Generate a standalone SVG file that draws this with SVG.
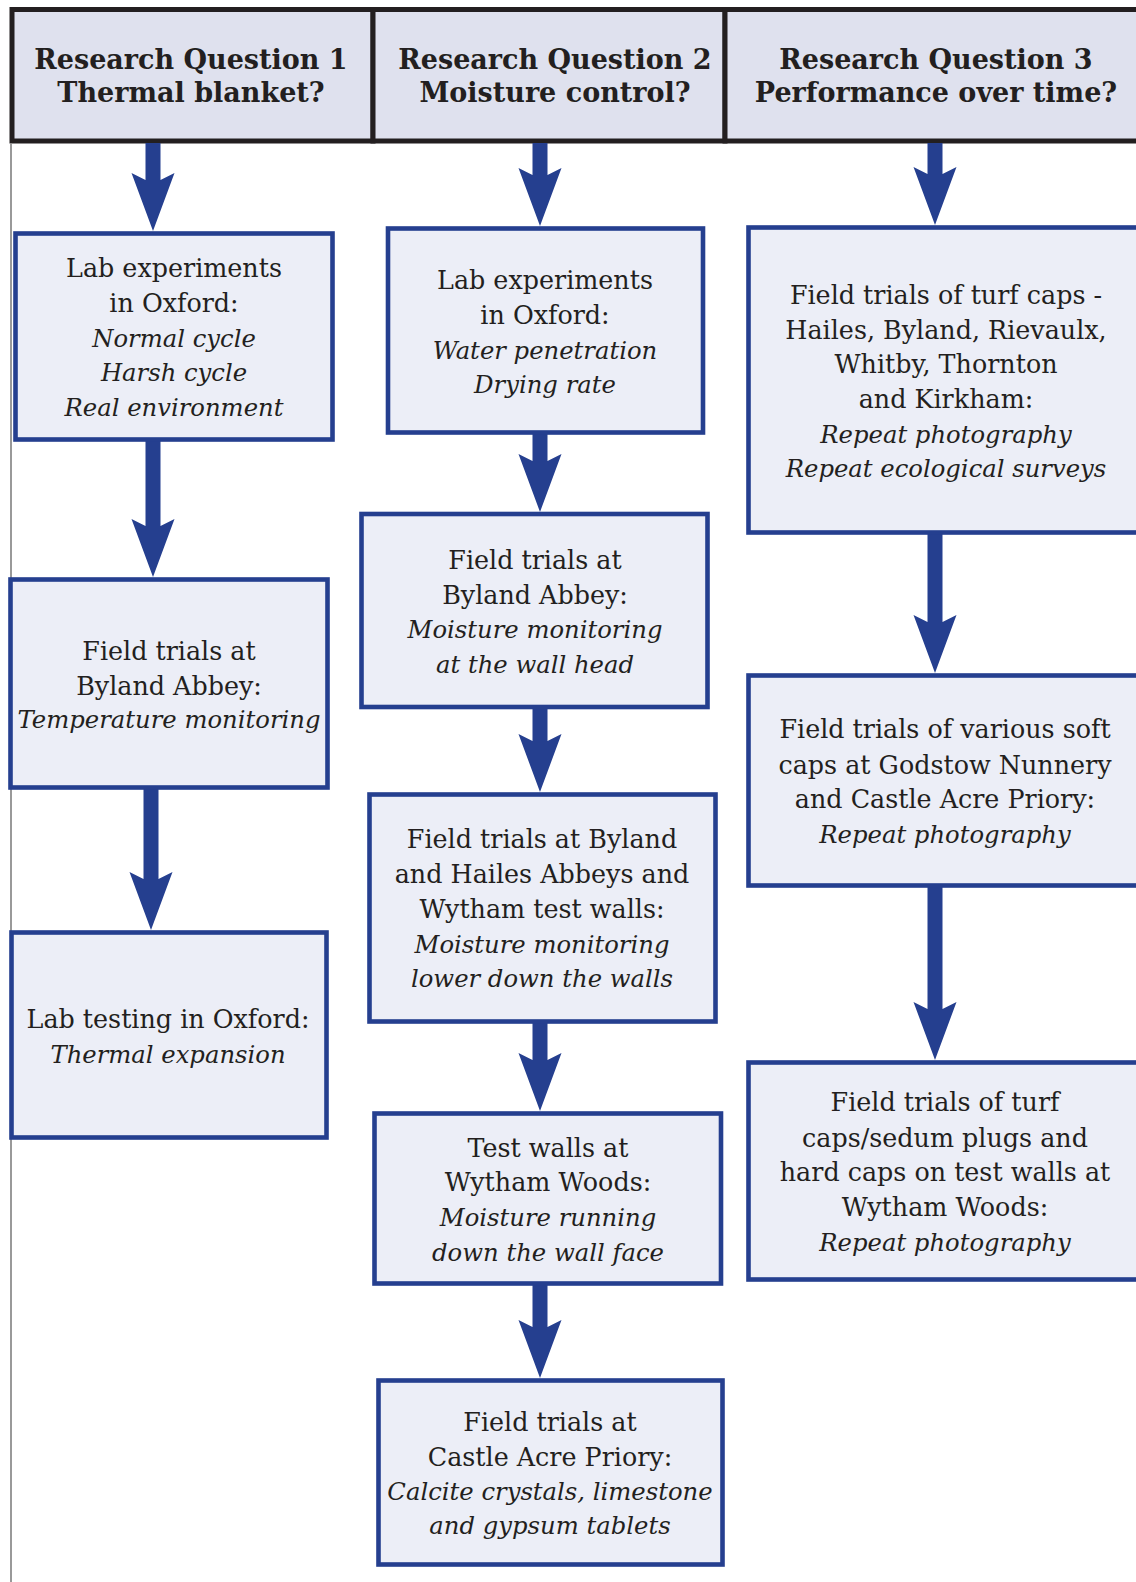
<svg xmlns="http://www.w3.org/2000/svg" width="1136" height="1582" viewBox="0 0 1136 1582">
<style>
.hdr{fill:#dfe1ee;stroke:#231f20;stroke-width:5}
.box{fill:#eceef7;stroke:#253f8f;stroke-width:4.6}
.arr{fill:#253f8f}
text{font-family:"DejaVu Serif",Georgia,serif;fill:#231f20;text-anchor:middle}
.h{font-weight:bold;font-size:27px}
.t{font-size:25.4px}
.i{font-size:24.3px;font-style:italic}
</style>
<rect width="1136" height="1582" fill="#ffffff"/>
<line x1="11" y1="144" x2="11" y2="1582" stroke="#555555" stroke-width="1.2"/>

<g id="header1">
<rect class="hdr" x="12" y="9.5" width="361" height="131.5"/>
<text class="h" x="191" y="69">Research Question 1</text>
<text class="h" x="191" y="102">Thermal blanket?</text>
</g>
<g id="header2">
<rect class="hdr" x="373" y="9.5" width="352" height="131.5"/>
<text class="h" x="555" y="69">Research Question 2</text>
<text class="h" x="555" y="102">Moisture control?</text>
</g>
<g id="header3">
<rect class="hdr" x="725" y="9.5" width="450" height="131.5"/>
<text class="h" x="936" y="69">Research Question 3</text>
<text class="h" x="936" y="102">Performance over time?</text>
</g>

<g id="connectors">
<path class="arr" d="M145.5,143 L160.5,143 L160.5,180 L174.5,173 L153,231 L131.5,173 L145.5,180 Z"/>
<path class="arr" d="M145.5,440 L160.5,440 L160.5,526 L174.5,519 L153,577 L131.5,519 L145.5,526 Z"/>
<path class="arr" d="M143.5,788 L158.5,788 L158.5,879 L172.5,872 L151,930 L129.5,872 L143.5,879 Z"/>

<path class="arr" d="M532.5,143 L547.5,143 L547.5,175 L561.5,168 L540,226 L518.5,168 L532.5,175 Z"/>
<path class="arr" d="M532.5,433 L547.5,433 L547.5,461 L561.5,454 L540,512 L518.5,454 L532.5,461 Z"/>
<path class="arr" d="M532.5,707 L547.5,707 L547.5,741 L561.5,734 L540,792 L518.5,734 L532.5,741 Z"/>
<path class="arr" d="M532.5,1022 L547.5,1022 L547.5,1060 L561.5,1053 L540,1111 L518.5,1053 L532.5,1060 Z"/>
<path class="arr" d="M532.5,1284 L547.5,1284 L547.5,1327 L561.5,1320 L540,1378 L518.5,1320 L532.5,1327 Z"/>

<path class="arr" d="M927.5,143 L942.5,143 L942.5,174 L956.5,167 L935,225 L913.5,167 L927.5,174 Z"/>
<path class="arr" d="M927.5,533 L942.5,533 L942.5,622 L956.5,615 L935,673 L913.5,615 L927.5,622 Z"/>
<path class="arr" d="M927.5,886 L942.5,886 L942.5,1009 L956.5,1002 L935,1060 L913.5,1002 L927.5,1009 Z"/>
</g>

<g id="a1">
<rect class="box" x="15.5" y="233.5" width="317" height="206"/>
<text class="t" x="174" y="277">Lab experiments</text>
<text class="t" x="174" y="312">in Oxford:</text>
<text class="i" x="174" y="347">Normal cycle</text>
<text class="i" x="174" y="381">Harsh cycle</text>
<text class="i" x="174" y="416">Real environment</text>
</g>
<g id="a2">
<rect class="box" x="10.5" y="579.5" width="317" height="208"/>
<text class="t" x="169" y="660">Field trials at</text>
<text class="t" x="169" y="695">Byland Abbey:</text>
<text class="i" x="169" y="728">Temperature monitoring</text>
</g>
<g id="a3">
<rect class="box" x="11.5" y="932.5" width="315" height="205"/>
<text class="t" x="168" y="1028">Lab testing in Oxford:</text>
<text class="i" x="168" y="1063">Thermal expansion</text>
</g>

<g id="b1">
<rect class="box" x="388" y="228.5" width="315" height="204"/>
<text class="t" x="545" y="289">Lab experiments</text>
<text class="t" x="545" y="324">in Oxford:</text>
<text class="i" x="545" y="359">Water penetration</text>
<text class="i" x="545" y="393">Drying rate</text>
</g>
<g id="b2">
<rect class="box" x="361.5" y="514" width="346" height="193"/>
<text class="t" x="535" y="569">Field trials at</text>
<text class="t" x="535" y="604">Byland Abbey:</text>
<text class="i" x="535" y="638">Moisture monitoring</text>
<text class="i" x="535" y="673">at the wall head</text>
</g>
<g id="b3">
<rect class="box" x="369.5" y="794.5" width="346" height="227"/>
<text class="t" x="542" y="848">Field trials at Byland</text>
<text class="t" x="542" y="883">and Hailes Abbeys and</text>
<text class="t" x="542" y="918">Wytham test walls:</text>
<text class="i" x="542" y="953">Moisture monitoring</text>
<text class="i" x="542" y="987">lower down the walls</text>
</g>
<g id="b4">
<rect class="box" x="374.5" y="1113.5" width="346.5" height="170"/>
<text class="t" x="548" y="1157">Test walls at</text>
<text class="t" x="548" y="1191">Wytham Woods:</text>
<text class="i" x="548" y="1226">Moisture running</text>
<text class="i" x="548" y="1261">down the wall face</text>
</g>
<g id="b5">
<rect class="box" x="378.5" y="1380.5" width="344" height="184"/>
<text class="t" x="550" y="1431">Field trials at</text>
<text class="t" x="550" y="1466">Castle Acre Priory:</text>
<text class="i" x="550" y="1500">Calcite crystals, limestone</text>
<text class="i" x="550" y="1534">and gypsum tablets</text>
</g>

<g id="c1">
<rect class="box" x="748.5" y="227.5" width="400" height="305"/>
<text class="t" x="946" y="304">Field trials of turf caps -</text>
<text class="t" x="946" y="339">Hailes, Byland, Rievaulx,</text>
<text class="t" x="946" y="373">Whitby, Thornton</text>
<text class="t" x="946" y="408">and Kirkham:</text>
<text class="i" x="946" y="443">Repeat photography</text>
<text class="i" x="946" y="477">Repeat ecological surveys</text>
</g>
<g id="c2">
<rect class="box" x="748.5" y="675.5" width="400" height="210"/>
<text class="t" x="945" y="738">Field trials of various soft</text>
<text class="t" x="945" y="774">caps at Godstow Nunnery</text>
<text class="t" x="945" y="808">and Castle Acre Priory:</text>
<text class="i" x="945" y="843">Repeat photography</text>
</g>
<g id="c3">
<rect class="box" x="748.5" y="1062.5" width="400" height="217"/>
<text class="t" x="945" y="1111">Field trials of turf</text>
<text class="t" x="945" y="1147">caps/sedum plugs and</text>
<text class="t" x="945" y="1181">hard caps on test walls at</text>
<text class="t" x="945" y="1216">Wytham Woods:</text>
<text class="i" x="945" y="1251">Repeat photography</text>
</g>
</svg>
